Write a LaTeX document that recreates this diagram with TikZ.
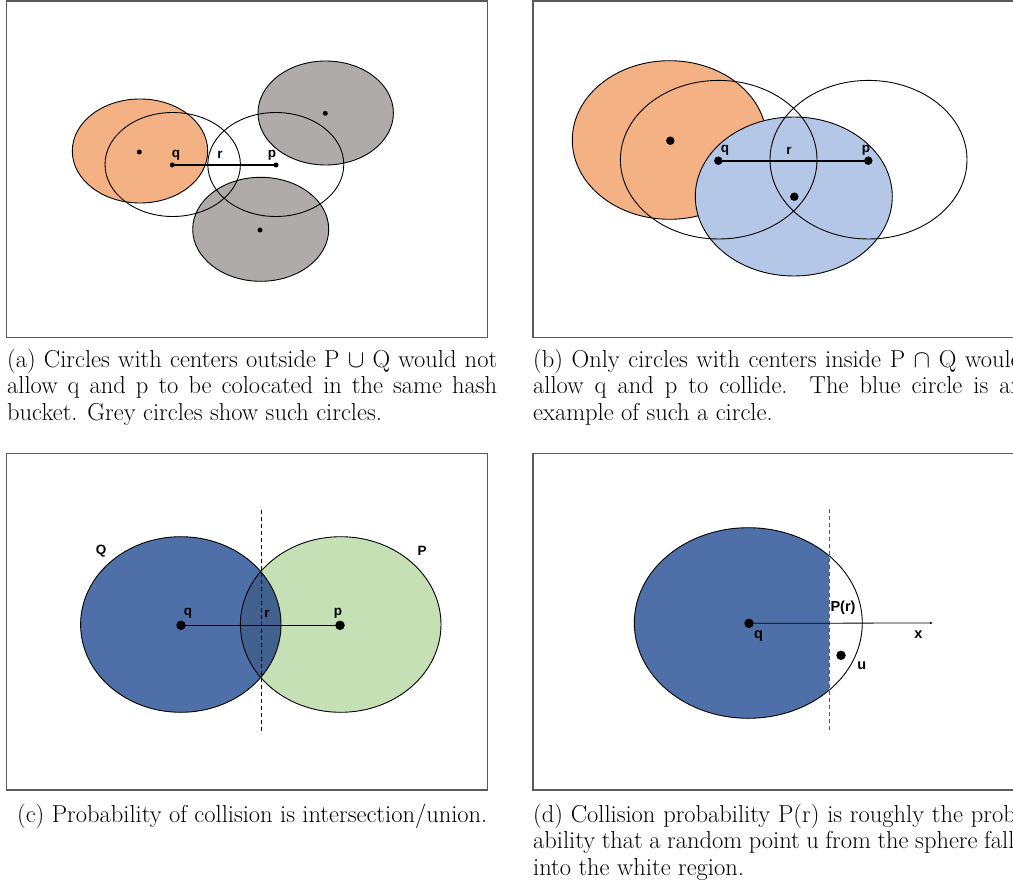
\documentclass[tikz,border=0pt]{standalone}
\usepackage{fontspec}
\newfontfamily\lblfont{Liberation Sans}
\usetikzlibrary{arrows.meta}
\definecolor{orangeF}{HTML}{F4B183}
\definecolor{greyF}{HTML}{AFABAB}
\definecolor{lblueF}{HTML}{B4C7E7}
\definecolor{dblueF}{HTML}{4F6FA8}
\definecolor{greenF}{HTML}{C5E0B4}
\definecolor{interF}{HTML}{43618F}
\definecolor{frameC}{HTML}{5A5A5A}
\tikzset{
  panel/.style={draw=frameC, line width=1.3pt},
  circ/.style={draw=black, line width=0.9pt},
  lbl/.style={font=\lblfont\bfseries\fontsize{13.5}{15}\selectfont, inner sep=0pt},
  captext/.style={anchor=base west, inner sep=0pt, font=\fontsize{24.5}{26.5}\selectfont},
  dotA/.style={circle, fill=black, inner sep=0pt, minimum size=5pt},
  dotB/.style={circle, fill=black, inner sep=0pt, minimum size=8.5pt},
}
\begin{document}
\begin{tikzpicture}[x=1pt, y=-1pt]
\useasboundingbox (0,0) rectangle (1013,880);
% ---------- panel frames ----------
\draw[panel] (6.5,1) rectangle (487.5,337.5);
\draw[panel] (533,1) rectangle (1030,337.5);
\draw[panel] (6.5,453.5) rectangle (487.5,790);
\draw[panel] (533,453.5) rectangle (1030,790);

% ---------- (a) ----------
\fill[orangeF] (140,151) ellipse [x radius=67.7, y radius=52];
\draw[circ] (140,151) ellipse [x radius=67.7, y radius=52];
\fill[greyF] (325.7,113) ellipse [x radius=67.7, y radius=52];
\draw[circ] (325.7,113) ellipse [x radius=67.7, y radius=52];
\fill[greyF] (260.7,229.3) ellipse [x radius=68, y radius=52];
\draw[circ] (260.7,229.3) ellipse [x radius=68, y radius=52];
\draw[circ] (172.7,164.5) ellipse [x radius=67.7, y radius=52];
\draw[circ] (275.8,164.5) ellipse [x radius=68, y radius=52];
\node[dotA] (ao) at (139.3,152) {};
\node[dotA] (ag1) at (325.3,113.3) {};
\node[dotA] (ag2) at (260,230) {};
\node[dotA] (aq) at (172.3,165) {};
\node[dotA] (ap) at (276,165) {};
\draw[line width=2.4pt] (aq.center) -- (ap.center);
\node[lbl] (aql) at (176,155.5) {q};
\node[lbl] (arl) at (220,154.5) {r};
\node[lbl] (apl) at (272,155.5) {p};

% ---------- (b) ----------
\fill[orangeF] (669.5,140) ellipse [x radius=97.2, y radius=79.3];
\draw[circ] (669.5,140) ellipse [x radius=97.2, y radius=79.3];
\fill[lblueF] (793.8,196.5) ellipse [x radius=98.5, y radius=79.5];
\draw[circ] (793.8,196.5) ellipse [x radius=98.5, y radius=79.5];
\draw[circ] (718.7,159.7) ellipse [x radius=98.3, y radius=79.3];
\draw[circ] (868.5,159.7) ellipse [x radius=98.5, y radius=79.3];
\node[dotB] (bo) at (670.3,140.7) {};
\node[dotB] (bb) at (794.3,196.7) {};
\node[dotB] (bq) at (718.3,160.7) {};
\node[dotB] (bp) at (868.3,160.7) {};
\draw[line width=2.2pt] (bq.center) -- (bp.center);
\node[lbl] (bql) at (725,150.5) {q};
\node[lbl] (brl) at (789,150.5) {r};
\node[lbl] (bpl) at (866,150.5) {p};

% ---------- (c) ----------
\fill[greenF] (340.7,624.5) ellipse [x radius=100.3, y radius=87.8];
\fill[dblueF] (180.8,624.5) ellipse [x radius=100.2, y radius=87.8];
\begin{scope}
  \clip (180.8,624.5) ellipse [x radius=100.2, y radius=87.8];
  \fill[interF] (340.7,624.5) ellipse [x radius=100.3, y radius=87.8];
\end{scope}
\draw[circ] (340.7,624.5) ellipse [x radius=100.3, y radius=87.8];
\draw[circ] (180.8,624.5) ellipse [x radius=100.2, y radius=87.8];
\coordinate (ct) at (261,510);
\coordinate (cb) at (261,732.5);
\draw[black, line width=1pt, dash pattern=on 4pt off 3pt] (ct) -- (cb);
\node[dotB, minimum size=9.5pt] (cq) at (181,625.3) {};
\node[dotB, minimum size=9.5pt] (cp) at (340,625.3) {};
\draw[line width=0.9pt] (cq.center) -- (cp.center);
\node[lbl] (cQl) at (101,551) {Q};
\node[lbl] (cPl) at (422,551) {P};
\node[lbl] (cql) at (188,613.5) {q};
\node[lbl] (crl) at (267,613.5) {r};
\node[lbl] (cpl) at (338,613.5) {p};

% ---------- (d) ----------
\begin{scope}
  \clip (600,500) rectangle (829,740);
  \fill[dblueF] (748.3,623) ellipse [x radius=114, y radius=95.3];
\end{scope}
\draw[circ] (748.3,623) ellipse [x radius=114, y radius=95.3];
\coordinate (dt) at (829,508.5);
\coordinate (db) at (829,730.5);
\draw[frameC, line width=1pt, dash pattern=on 4pt off 3pt] (dt) -- (db);
\node[dotB, minimum size=9.5pt] (dq) at (749,623.3) {};
\node[dotB, minimum size=9.5pt] (du) at (841,655.3) {};
\coordinate (dx) at (933,623);
\draw[line width=0.8pt, -{Latex[length=3pt,width=2.5pt]}] (dq.center) -- (dx);
\node[lbl, font=\lblfont\bfseries\fontsize{14.5}{16}\selectfont] (dql) at (758.5,636) {q};
\node[lbl, font=\lblfont\bfseries\fontsize{14.5}{16}\selectfont] (dPl) at (843,608) {P(r)};
\node[lbl, font=\lblfont\bfseries\fontsize{14.5}{16}\selectfont] (dxl) at (918.5,635) {x};
\node[lbl, font=\lblfont\bfseries\fontsize{14.5}{16}\selectfont] (dul) at (861.7,666) {u};

% ---------- captions ----------
\node[captext] (capa) at (7,367) {\parbox[t]{490pt}{(a) Circles with centers outside P $\cup$ Q would not\linebreak allow q and p to be colocated in the same hash\linebreak bucket. Grey circles show such circles.}};
\node[captext] (capb) at (533,367) {\parbox[t]{490pt}{(b) Only circles with centers inside P $\cap$ Q would\linebreak allow q and p to collide.\ \ The blue circle is an\linebreak example of such a circle.}};
\node[captext] (capc) at (7,822) {\parbox[t]{490pt}{\centering (c) Probability of collision is intersection/union.}};
\node[captext] (capd) at (533,822) {\parbox[t]{490pt}{(d) Collision probability P(r) is roughly the prob-\linebreak ability that a random point u from the sphere falls\linebreak into the white region.}};
\end{tikzpicture}
\end{document}
